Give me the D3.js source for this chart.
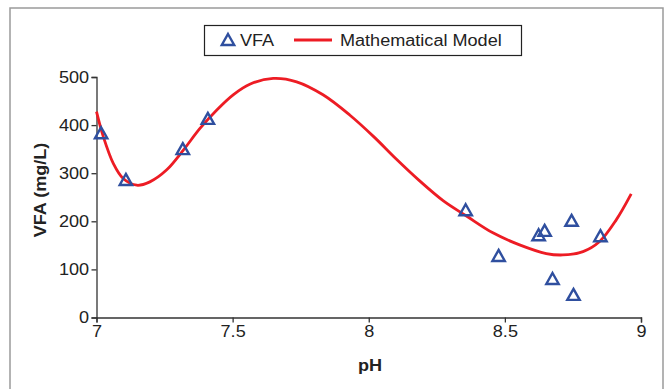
<!DOCTYPE html>
<html>
<head>
<meta charset="utf-8">
<script src="https://cdn.jsdelivr.net/npm/d3@7"></script>
<style>
  html, body { margin: 0; padding: 0; background: #fff; }
  svg { display: block; font-family: "Liberation Sans", Arial, sans-serif; }
</style>
</head>
<body>
<svg id="chart" width="666" height="389"></svg>
<script>
// measured VFA points (pH, mg/L)
const vfaPH  = [7.017, 7.108, 7.317, 7.409, 8.356, 8.477, 8.624, 8.646, 8.745, 8.675, 8.752, 8.851];
const vfaVal = [383,   286,   350,   413,   223,   128,   171,   180,   201,   80,    47,    169];

// model curve
const modelPH  = [7.00, 7.025, 7.062, 7.098, 7.148, 7.196, 7.258, 7.319, 7.380, 7.441, 7.502, 7.563, 7.649,
                  7.735, 7.832, 7.930, 8.020, 8.100, 8.187, 8.273, 8.359, 8.456, 8.554, 8.652, 8.713,
                  8.787, 8.848, 8.909, 8.964];
const modelVal = [428, 376, 320, 289, 275, 282, 307, 348, 393, 431, 463, 485, 497,
                  490, 463, 421, 375, 330, 284, 243, 211, 176, 151, 133, 130,
                  137, 158, 203, 257];

const xTicks = [7, 7.5, 8, 8.5, 9];
const yTicks = [0, 100, 200, 300, 400, 500];

const SX = 1.13;            // the source figure is a bit stretched sideways
const RED = '#ed1c24', BLUE = '#2f4f9f', INK = '#222';

const svg = d3.select('#chart');

// outer frame
svg.append('rect').attr('x', 10).attr('y', 8).attr('width', 653).attr('height', 420)
  .attr('fill', '#fff').attr('stroke', '#9a9a9a').attr('stroke-width', 1.5);

const x = d3.scaleLinear().domain([7, 9]).range([96.5, 641]);
const y = d3.scaleLinear().domain([0, 500]).range([317.5, 77]);

function addText(parent, px, py, str, opts = {}) {
  return parent.append('text')
    .attr('transform', `translate(${px},${py}) rotate(${opts.rotate || 0}) scale(${SX},1)`)
    .attr('text-anchor', opts.anchor || 'start')
    .attr('font-size', opts.size || 16)
    .attr('font-weight', opts.weight || 'normal')
    .attr('fill', INK)
    .text(str);
}

// axes
const gx = svg.append('g').attr('transform', `translate(0,${y(0)})`)
  .call(d3.axisBottom(x).tickValues(xTicks).tickFormat(d3.format('')).tickSize(5).tickPadding(3.5));
const gy = svg.append('g').attr('transform', `translate(${x(7)},0)`)
  .call(d3.axisLeft(y).tickValues(yTicks).tickSize(5).tickPadding(1.6));

[gx, gy].forEach(g => {
  g.select('.domain').attr('stroke', '#333').attr('stroke-width', 1.3);
  g.selectAll('.tick line').attr('stroke', '#333').attr('stroke-width', 1.3);
  g.selectAll('.tick text').attr('font-size', 16).attr('fill', INK)
    .attr('font-family', '"Liberation Sans", Arial, sans-serif')
    .attr('transform', `scale(${SX},1)`);
});

// axis titles
addText(svg, 370, 371, 'pH', { anchor: 'middle', weight: 'bold' });
addText(svg, 46, 190, 'VFA (mg/L)', { anchor: 'middle', weight: 'bold', rotate: -90 });

// model line
const modelData = modelPH.map((p, i) => ({ p, v: modelVal[i] }));
const line = d3.line().x(d => x(d.p)).y(d => y(d.v)).curve(d3.curveCatmullRom.alpha(0.5));
svg.append('path').datum(modelData)
  .attr('fill', 'none').attr('stroke', RED).attr('stroke-width', 2.8)
  .attr('stroke-linejoin', 'round').attr('d', line);

// triangles
const tri = 'M0,-6L6.2,5L-6.2,5Z';
const vfaData = vfaPH.map((p, i) => ({ p, v: vfaVal[i] }));
svg.append('g').selectAll('path')
  .data(vfaData)
  .join('path')
    .attr('d', tri)
    .attr('transform', d => `translate(${x(d.p)},${y(d.v)})`)
    .attr('fill', 'none').attr('stroke', BLUE).attr('stroke-width', 2.4)
    .attr('stroke-linejoin', 'miter');

// legend
const lg = svg.append('g');
lg.append('rect').attr('x', 204.5).attr('y', 25.5).attr('width', 317).attr('height', 30)
  .attr('fill', '#fff').attr('stroke', INK).attr('stroke-width', 1.2);
lg.append('path').attr('d', tri).attr('transform', 'translate(228,40)')
  .attr('fill', 'none').attr('stroke', BLUE).attr('stroke-width', 2.4);
addText(lg, 240, 46, 'VFA');
lg.append('line').attr('x1', 294).attr('x2', 332).attr('y1', 40).attr('y2', 40)
  .attr('stroke', RED).attr('stroke-width', 2.8);
addText(lg, 340, 46, 'Mathematical Model');
</script>
</body>
</html>
